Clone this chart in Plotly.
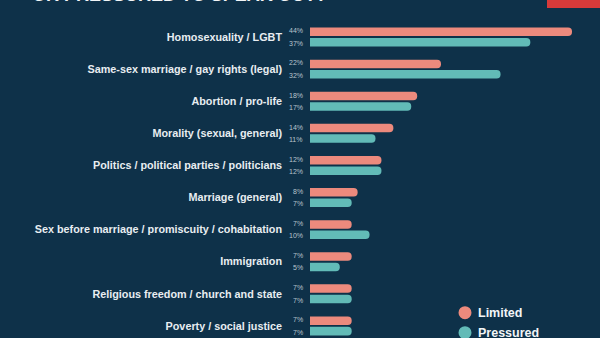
import plotly.graph_objects as go

categories = [
    "Homosexuality / LGBT",
    "Same-sex marriage / gay rights (legal)",
    "Abortion / pro-life",
    "Morality (sexual, general)",
    "Politics / political parties / politicians",
    "Marriage (general)",
    "Sex before marriage / promiscuity / cohabitation",
    "Immigration",
    "Religious freedom / church and state",
    "Poverty / social justice",
]
limited = [44, 22, 18, 14, 12, 8, 7, 7, 7, 7]
pressured = [37, 32, 17, 11, 12, 7, 10, 5, 7, 7]
series_names = ["Limited", "Pressured"]
title_text = "OR PRESSURED TO SPEAK OUT?"

BG = "#0e3149"
C_LIM = "#ec8a7d"
C_PRE = "#62bbb7"
LABEL_FONT = "Liberation Sans"

ML, MR = 310, 10
PW = 600 - ML - MR


def xp(px):
    return (px - ML) / PW


def yp(py):
    return (338 - py) / 338


fig = go.Figure()
fig.add_trace(go.Bar(y=categories, x=limited, orientation="h", name=series_names[0],
                     marker=dict(color=C_LIM, line=dict(width=0)), showlegend=False,
                     hoverinfo="skip"))
fig.add_trace(go.Bar(y=categories, x=pressured, orientation="h", name=series_names[1],
                     marker=dict(color=C_PRE, line=dict(width=0)), showlegend=False,
                     hoverinfo="skip"))

annotations = []
for cat, lv, pv in zip(categories, limited, pressured):
    for val, ys in ((lv, 6.2), (pv, -6.2)):
        annotations.append(dict(
            x=0, y=cat, xref="x", yref="y", text=f"{val}%", showarrow=False,
            xanchor="right", yanchor="middle", xshift=-5, yshift=ys,
            font=dict(family=LABEL_FONT, size=7, color="#b9c5cd")))

# legend (circle + label)
shapes = []
for i, (name, col) in enumerate(zip(series_names, [C_LIM, C_PRE])):
    yc = 312.7 + 20 * i
    annotations.append(dict(
        x=xp(476), y=yp(yc), xref="paper", yref="paper", text=f"<b>{name}</b>",
        showarrow=False, xanchor="left", yanchor="middle",
        font=dict(family=LABEL_FONT, size=12.5, color="#f2f5f7")))
    shapes.append(dict(type="circle", xref="paper", yref="paper",
                       x0=xp(465 - 6.5), x1=xp(465 + 6.5),
                       y0=yp(yc + 6.5), y1=yp(yc - 6.5),
                       fillcolor=col, line=dict(width=0)))

# cropped title at very top
annotations.append(dict(
    x=xp(30), y=1, xref="paper", yref="paper", text=f"<b>{title_text}</b>",
    showarrow=False, xanchor="left", yanchor="bottom", yshift=-7,
    font=dict(family=LABEL_FONT, size=18, color="#f2f5f7")))

shapes.append(dict(type="rect", xref="paper", yref="paper",
                   x0=xp(547), x1=xp(602), y0=yp(8), y1=yp(-2),
                   fillcolor="#d83a3a", line=dict(width=0)))

fig.update_layout(
    width=600, height=338,
    margin=dict(l=ML, r=MR, t=0, b=0),
    paper_bgcolor=BG, plot_bgcolor=BG,
    barmode="group", bargap=0.349, bargroupgap=0.186,
    barcornerradius=4,
    xaxis=dict(range=[0, 44 * PW / 262], visible=False, fixedrange=True),
    yaxis=dict(type="category", categoryarray=categories, range=[9.377, -1.153],
               showgrid=False, zeroline=False, showline=False, ticks="",
               ticklabelstandoff=27,
               tickfont=dict(family=LABEL_FONT, size=10.8, color="#e8edf1", weight="bold")),
    annotations=annotations, shapes=shapes,
    showlegend=False,
)
fig.write_html("out.html")
